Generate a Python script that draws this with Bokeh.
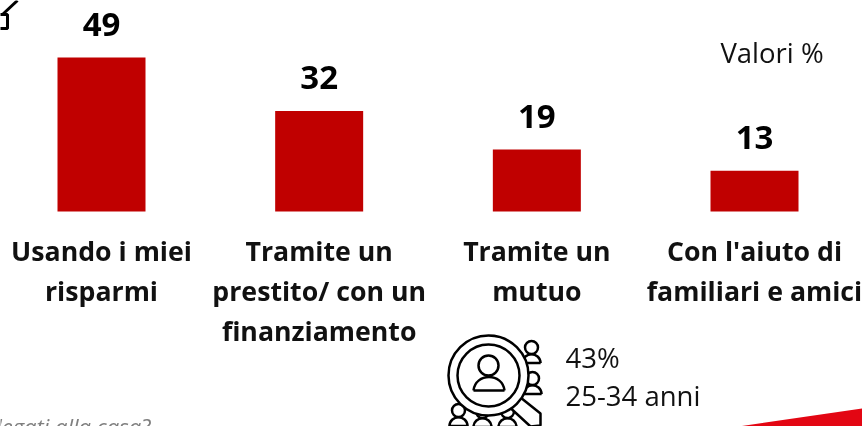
from bokeh.plotting import figure
from bokeh.embed import file_html
from bokeh.resources import INLINE
from bokeh.core.properties import value

categories = ["Usando i miei\nrisparmi", "Tramite un\nprestito/ con un\nfinanziamento", "Tramite un\nmutuo", "Con l'aiuto di\nfamiliari e amici"]
values = [49, 32, 19, 13]
drawn_values = [49, 32, 19.7, 13]   # the bars as they appear in the picture
unit_note = "Valori %"
callout = ["43%", "25-34 anni"]
footnote = "legati alla casa?"

W, H = 862, 426
x0, dx = 101.0, 217.67      # pixel position of the first category, spacing
y0, dy = 211.0, 3.143       # pixel position of zero, pixels per unit
def X(px): return (px - x0) / dx
def Y(py): return (y0 - py) / dy

p = figure(width=W, height=H, output_backend="svg", toolbar_location=None,
           x_range=(X(0), X(W)), y_range=(Y(H), Y(0)), min_border=0,
           outline_line_color=None, background_fill_color="white",
           styles={"position": "fixed", "left": "0px", "top": "0px"})
p.xaxis.visible = False
p.yaxis.visible = False
p.grid.visible = False

xs = list(range(len(values)))
p.vbar(x=xs, top=drawn_values, bottom=0, width=88 / dx, fill_color="#C00000", line_color=None)
p.text(x=xs, y=drawn_values, text=[str(v) for v in values], text_font=value("Open Sans"),
       text_font_style="bold", text_font_size="33px", text_align="center",
       text_baseline="alphabetic", y_offset=-33, text_color="#000000")
p.text(x=xs, y=[0] * 4, text=categories, text_font=value("Open Sans"), text_font_style="bold",
       text_font_size="26.7px", text_align="center", text_baseline="top", y_offset=20,
       text_line_height=1.09, text_color="#111111")

p.text(x=[X(771.5)], y=[Y(52)], text=[unit_note], text_font=value("Open Sans"), text_font_size="27.5px",
       text_align="center", text_baseline="middle", text_color="#111111")
p.text(x=[X(565)] * 2, y=[Y(357), Y(395)], text=callout, text_font=value("Open Sans"), text_font_size="27.5px",
       text_align="left", text_baseline="middle", text_color="#111111")
p.text(x=[X(150)], y=[Y(425)], text=[footnote], text_font=value("Open Sans"), text_font_style="italic",
       text_font_size="22px", text_align="right", text_baseline="alphabetic", text_color="#7F7F7F")

# red corner shape
p.patch([X(738), X(862), X(862)], [Y(426), Y(408), Y(426)], fill_color="#E30613", line_color=None)

# house icon fragment, top-left
p.line([X(-2), X(7), X(7), X(-2)], [Y(14), Y(14), Y(28), Y(28)], line_color="black", line_width=3)
p.line([X(2), X(17)], [Y(14), Y(0)], line_color="black", line_width=3)

# magnifier icon
LW = 2.5
def person(cx, cy, r=6.5, lw=LW):
    p.scatter([X(cx)], [Y(cy)], size=2 * r, marker="circle", fill_color="white", line_color="black", line_width=lw)
    by = cy + 2.4 * r
    p.patch([X(cx - 1.4 * r), X(cx + 1.4 * r)], [Y(by), Y(by)], fill_color=None, line_color="black", line_width=lw)
    p.bezier(x0=[X(cx - 1.4 * r)], y0=[Y(by)], x1=[X(cx + 1.4 * r)], y1=[Y(by)],
             cx0=[X(cx - 1.3 * r)], cy0=[Y(by - 1.8 * r)], cx1=[X(cx + 1.3 * r)], cy1=[Y(by - 1.8 * r)],
             line_color="black", line_width=lw)

for c in [(531, 347), (532, 378), (458, 410), (482, 411), (507, 411)]:
    person(*c)
p.patch([X(515), X(540), X(540), X(530), X(505)], [Y(393), Y(413), Y(425), Y(426), Y(403)],
        fill_color="white", line_color="black", line_width=LW)
p.scatter([X(488)], [Y(375)], size=80, marker="circle", fill_color="white", line_color="black", line_width=LW)
p.scatter([X(488)], [Y(375)], size=62, marker="circle", fill_color="white", line_color="black", line_width=LW)
p.scatter([X(488)], [Y(365)], size=20, marker="circle", fill_color="white", line_color="black", line_width=LW)
p.patch([X(473), X(504)], [Y(390), Y(390)], fill_color=None, line_color="black", line_width=LW)
p.bezier(x0=[X(473)], y0=[Y(390)], x1=[X(504)], y1=[Y(390)], cx0=[X(475)], cy0=[Y(372)], cx1=[X(502)], cy1=[Y(372)],
         line_color="black", line_width=LW)

open("out.html", "w").write(file_html(p, INLINE))
